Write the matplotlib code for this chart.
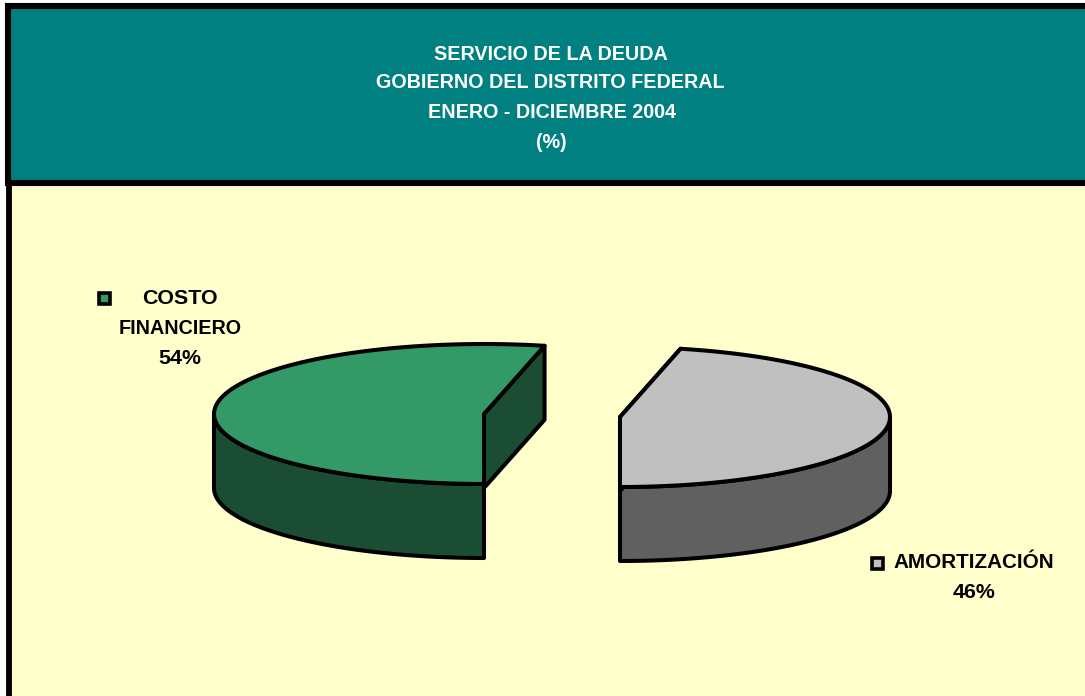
import numpy as np
import matplotlib
matplotlib.use("Agg")
import matplotlib.pyplot as plt
from matplotlib.patches import Polygon, Rectangle

title_lines = ["SERVICIO DE LA DEUDA", "GOBIERNO DEL DISTRITO FEDERAL", "ENERO - DICIEMBRE 2004", "(%)"]
categories = ["COSTO\nFINANCIERO", "AMORTIZACIÓN"]
values = [53.6, 46.4]
top_colors = ["#339966", "#C0C0C0"]
side_colors = ["#1A4D33", "#606060"]

plt.rcParams["font.family"] = ["Liberation Sans", "DejaVu Sans"]
W, H = 1085, 696
fig = plt.figure(figsize=(W / 100, H / 100), dpi=100, facecolor="white")
ax = fig.add_axes([0, 0, 1, 1])
ax.set_xlim(0, W)
ax.set_ylim(H, 0)
ax.axis("off")

ax.add_patch(Rectangle((8.5, 183), W, H, fc="#FFFFCC", ec="black", lw=4.2, zorder=1))
ax.add_patch(Rectangle((8, 6), W, 177, fc="#008080", ec="black", lw=4.4, zorder=2))
for line, x, y in zip(title_lines, [550.5, 550.5, 552, 551], [54, 83, 112, 143]):
    ax.text(x, y, line, ha="center", va="center", fontsize=14.2, fontweight="bold",
            color="white", zorder=3)

RX, RY, DEPTH = 270, 70, 74
LW = 2.9
share = np.array(values) / sum(values) * 360


def ell(cx, cy, a):
    a = np.radians(a)
    return np.column_stack([cx + RX * np.cos(a), cy - RY * np.sin(a)])


def draw_slice(cx, cy, a0, a1, top, side):
    arc = ell(cx, cy, np.linspace(a0, a1, 120))
    apex = np.array([[cx, cy]])
    down = np.array([0, DEPTH])
    # outer wall: only the part of the rim facing the viewer
    s0, s1 = (a0, 360) if a1 > 360 else (180, a1)
    rim = ell(cx, cy, np.linspace(s0, s1, 80))
    ax.add_patch(Polygon(np.vstack([rim, (rim + down)[::-1]]), closed=True, fc=side, ec="black",
                         lw=LW, joinstyle="round", zorder=4))
    # cut face, along the radial edge towards the back
    back = arc[0] if a0 < 180 else arc[-1]
    ax.add_patch(Polygon(np.vstack([apex, [back], [back + down], apex + down]), closed=True, fc=side,
                         ec="black", lw=LW, joinstyle="round", zorder=4))
    ax.add_patch(Polygon(np.vstack([apex, arc]), closed=True, fc=top, ec="black",
                         lw=LW, joinstyle="round", zorder=5))


# green slice runs clockwise from the front, grey slice counter-clockwise from the front
draw_slice(484, 414, 270 - share[0], 270, top_colors[0], side_colors[0])
draw_slice(620, 417, 270, 270 + share[1], top_colors[1], side_colors[1])

label_kw = dict(ha="center", va="center", fontweight="bold", color="black")
ax.add_patch(Rectangle((98.75, 292.75), 11.5, 11.5, fc=top_colors[0], ec="black", lw=2.6, zorder=6))
for line, y, size in zip(categories[0].split("\n"), [299, 328], [15.4, 14.2]):
    ax.text(180, y, line, fontsize=size, **label_kw)
ax.text(180, 358, f"{values[0]:.0f}%", fontsize=15.4, **label_kw)

ax.add_patch(Rectangle((871.75, 557.75), 11.5, 11.5, fc=top_colors[1], ec="black", lw=2.6, zorder=6))
ax.text(973.5, 563, categories[1], fontsize=14.9, **label_kw)
ax.text(974, 592, f"{values[1]:.0f}%", fontsize=15.4, **label_kw)

fig.savefig("out.png", dpi=100, facecolor="white")
